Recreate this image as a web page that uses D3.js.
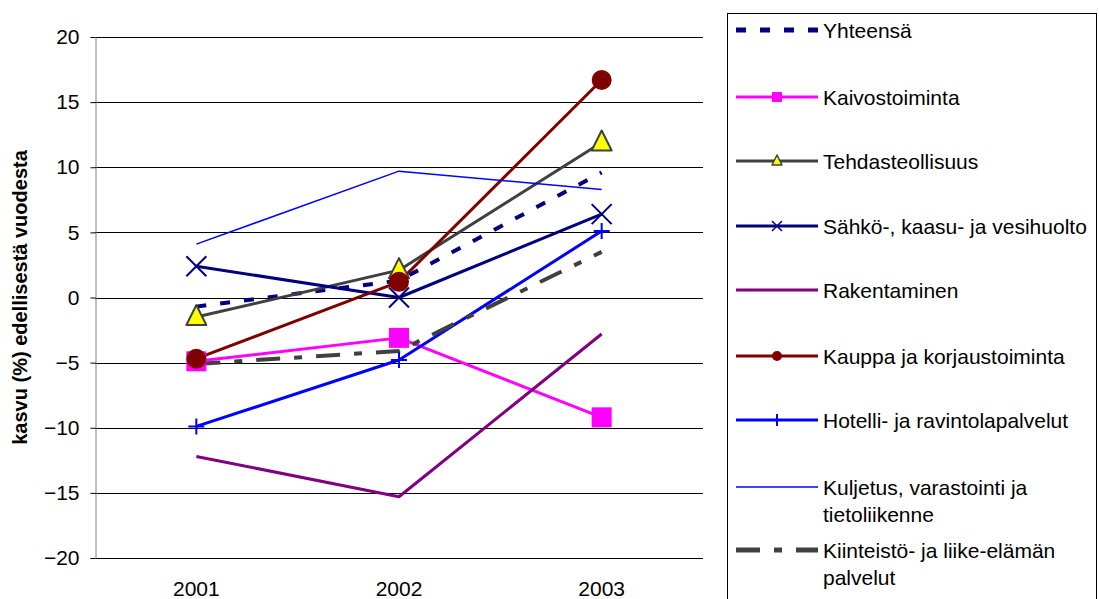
<!DOCTYPE html>
<html><head><meta charset="utf-8">
<script src="https://cdn.jsdelivr.net/npm/d3@7"></script>
<style>body{margin:0;background:#fff;} svg{display:block;font-family:"Liberation Sans",Arial,sans-serif;}</style>
</head><body>
<svg id="c" width="1099" height="599"></svg>
<script>
const years = ["2001","2002","2003"];
const yTicks = [-20,-15,-10,-5,0,5,10,15,20];
const yTitle = "kasvu (%) edellisestä vuodesta";
const seriesNames = ["Yhteensä","Kaivostoiminta","Tehdasteollisuus","Sähkö-, kaasu- ja vesihuolto","Rakentaminen","Kauppa ja korjaustoiminta","Hotelli- ja ravintolapalvelut","Kuljetus, varastointi ja tietoliikenne","Kiinteistö- ja liike-elämän palvelut"];
const yhteensa = [-0.7, 1.3, 9.6];
const kaivos = [-4.9, -3.1, -9.2];
const tehdas = [-1.5, 2.1, 11.9];
const sahko = [2.4, 0.0, 6.4];
const rakent = [-12.2, -15.3, -2.8];
const kauppa = [-4.7, 1.2, 16.7];
const hotelli = [-9.9, -4.8, 5.1];
const kuljetus = [4.1, 9.7, 8.3];
const kiinteisto = [-5.1, -4.1, 3.5];

const styles = [
  {v:yhteensa, color:"#000080", w:4, dash:"10,14", marker:null},
  {v:kaivos, color:"#FF00FF", w:3, dash:null, marker:"square", fill:"#FF00FF"},
  {v:tehdas, color:"#404040", w:3, dash:null, marker:"triangle", fill:"#FFFF00"},
  {v:sahko, color:"#000080", w:3, dash:null, marker:"x"},
  {v:rakent, color:"#800080", w:3, dash:null, marker:null},
  {v:kauppa, color:"#800000", w:3, dash:null, marker:"circle", fill:"#800000"},
  {v:hotelli, color:"#0000FF", w:3, dash:null, marker:"plus"},
  {v:kuljetus, color:"#0000FF", w:1.5, dash:null, marker:null},
  {v:kiinteisto, color:"#404040", w:4, dash:"24,14,8,14", marker:null}
];

const FONT = "Liberation Sans, Arial, sans-serif";
const svg = d3.select("#c");
const m = {l:95, r:703, t:37, b:558};
const x = d3.scaleBand().domain(years).range([m.l, m.r]);
const y = d3.scaleLinear().domain([-20,20]).range([m.b, m.t]);
const cx = d => x(d) + x.bandwidth()/2;

// gridlines
svg.append("g").selectAll("line").data(yTicks).join("line")
  .attr("x1", m.l).attr("x2", m.r).attr("y1", d=>Math.round(y(d))+0.5).attr("y2", d=>Math.round(y(d))+0.5)
  .attr("stroke","#000").attr("stroke-width",1);

// y axis
const ya = svg.append("g").attr("transform",`translate(${m.l+0.5},0)`)
  .call(d3.axisLeft(y).tickValues(yTicks).tickSize(5).tickPadding(11).tickFormat(d3.format("d")));
ya.select(".domain").attr("stroke","#808080");
ya.selectAll(".tick line").attr("stroke","#000");
ya.selectAll("text").attr("font-size",21).attr("fill","#000").attr("font-family",FONT);

// x axis labels
const xa = svg.append("g").attr("transform",`translate(0,${m.b})`)
  .call(d3.axisBottom(x).tickSize(0).tickPadding(0));
xa.select(".domain").remove();
xa.selectAll("text").attr("font-size",21).attr("fill","#000").attr("font-family",FONT)
  .attr("dy",null).attr("y",38);

// y title
svg.append("text").attr("transform",`translate(27,${(m.t+m.b)/2}) rotate(-90)`)
  .attr("text-anchor","middle").attr("font-size",20).attr("font-weight","bold").attr("font-family",FONT).text(yTitle);

function drawMarker(g, type, px, py, s, st) {
  if (!type) return;
  if (type==="square") {
    g.append("rect").attr("x",px-s/2).attr("y",py-s/2).attr("width",s).attr("height",s).attr("fill",st.fill);
  } else if (type==="circle") {
    g.append("circle").attr("cx",px).attr("cy",py).attr("r",s/2).attr("fill",st.fill);
  } else if (type==="triangle") {
    const h = s;
    g.append("path").attr("d",`M${px},${py-h*0.6}L${px+s/2},${py+h*0.4}L${px-s/2},${py+h*0.4}Z`)
      .attr("fill",st.fill).attr("stroke",st.color).attr("stroke-width",s>12?2:1.5).attr("stroke-linejoin","round");
  } else if (type==="x") {
    const r = s/2;
    g.append("path").attr("d",`M${px-r},${py-r}L${px+r},${py+r}M${px-r},${py+r}L${px+r},${py-r}`)
      .attr("stroke",st.color).attr("stroke-width",s>12?2:1.5).attr("fill","none");
  } else if (type==="plus") {
    const r = s/2;
    g.append("path").attr("d",`M${px-r},${py}L${px+r},${py}M${px},${py-r}L${px},${py+r}`)
      .attr("stroke",st.color).attr("stroke-width",2).attr("fill","none");
  }
}

const line = d3.line().x((d,i)=>cx(years[i])).y(d=>y(d));
styles.forEach(st=>{
  svg.append("path").datum(st.v).attr("d",line).attr("fill","none")
    .attr("stroke",st.color).attr("stroke-width",st.w).attr("stroke-dasharray",st.dash)
    .attr("stroke-linejoin","round");
});
styles.forEach(st=>{
  const g = svg.append("g");
  st.v.forEach((v,i)=>{
    const size = st.marker==="plus" ? 16 : 20;
    drawMarker(g, st.marker, cx(years[i]), y(v), size, st);
  });
});

// legend
svg.append("rect").attr("x",727.5).attr("y",13.5).attr("width",369).attr("height",600)
  .attr("fill","#fff").attr("stroke","#000").attr("stroke-width",1);
const legY = [30, 97, 161, 226, 290, 356, 420, 487, 550];
const lx1 = 736, lx2 = 818, tx = 823;
styles.forEach((st,i)=>{
  const g = svg.append("g");
  const ly = legY[i];
  g.append("line").attr("x1",lx1).attr("x2",lx2).attr("y1",ly).attr("y2",ly)
    .attr("stroke",st.color).attr("stroke-width",st.w===1.5?1.5:(st.dash?5:3)).attr("stroke-dasharray",st.dash);
  drawMarker(g, st.marker, (lx1+lx2)/2, ly, st.marker==="plus"?12:10, st);
  const name = seriesNames[i];
  let lines = [name];
  if (i===7) lines = ["Kuljetus, varastointi ja","tietoliikenne"];
  if (i===8) lines = ["Kiinteistö- ja liike-elämän","palvelut"];
  lines.forEach((t,j)=>{
    g.append("text").attr("x",tx).attr("y",ly+j*27).attr("dy","0.36em")
      .attr("font-size",21).attr("font-family",FONT).attr("fill","#000").text(t);
  });
});
</script>
</body></html>
